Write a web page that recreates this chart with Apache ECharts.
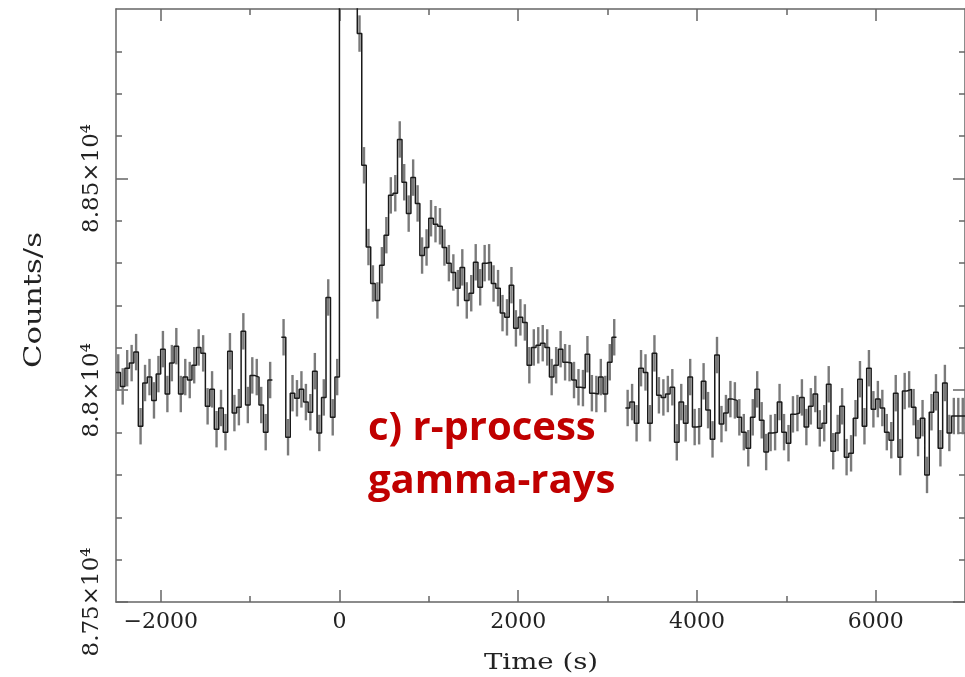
<!DOCTYPE html>
<html>
<head>
<meta charset="utf-8">
<script src="https://cdn.jsdelivr.net/npm/echarts@6/dist/echarts.min.js"></script>
<style>
  html, body { margin: 0; padding: 0; background: #fff; }
  #chart { width: 965px; height: 677px; }
</style>
</head>
<body>
<div id="chart"></div>
<script>
// ---- data (bin centres in s, counts/s) ----
const BIN_HALF = 25;
const ERR = 43;

const preTimes = [-2475,-2425,-2375,-2325,-2275,-2225,-2175,-2125,-2075,-2025,
  -1975,-1925,-1875,-1825,-1775,-1725,-1675,-1625,-1575,-1525,
  -1475,-1425,-1375,-1325,-1275,-1225,-1175,-1125,-1075,-1025,
  -975,-925,-875,-825,-775,-725,-675,-625,-575,-525,
  -475,-425,-375,-325,-275,-225,-175,-125,-75,-25];
const preCounts = [88042,88009,88052,88064,88090,87915,88017,88031,87976,88038,
  88097,87991,88064,88104,87991,88031,88024,88059,88101,88087,
  87962,88002,87908,87958,87901,88092,87946,87960,88139,87965,
  88035,88031,87965,87901,88024,null,null,88125,87889,87993,
  87981,88002,87972,87948,88045,87899,87983,88219,87936,88031];

const postTimes = [25,75,125,175,225,275,325,375,425,475,
  525,575,625,675,725,775,825,875,925,975,
  1025,1075,1125,1175,1225,1275,1325,1375,1425,1475,
  1525,1575,1625,1675,1725,1775,1825,1875,1925,1975,
  2025,2075,2125,2175,2225,2275,2325,2375,2425,2475,
  2525,2575,2625,2675,2725,2775,2825,2875,2925,2975,
  3025,3075,3125,3175,3225,3275,3325,3375,3425,3475,
  3525,3575,3625,3675,3725,3775,3825,3875,3925,3975,
  4025,4075,4125,4175,4225,4275,4325,4375,4425,4475,
  4525,4575,4625,4675,4725,4775,4825,4875,4925,4975,
  5025,5075,5125,5175,5225,5275,5325,5375,5425,5475,
  5525,5575,5625,5675,5725,5775,5825,5875,5925,5975,
  6025,6075,6125,6175,6225,6275,6325,6375,6425,6475,
  6525,6575,6625,6675,6725,6775,6825,6875,6925,6975];
const postCounts = [90000,90000,89800,89000,88842,88531,88338,88252,88212,88295,
  88366,88460,88465,88592,88491,88417,88502,88441,88318,88337,
  88406,88392,88387,88337,88300,88278,88241,88290,88212,88229,
  88302,88243,88300,88302,88252,88241,88182,88172,88248,88146,
  88172,88160,88059,88101,88106,88111,88101,88031,88059,88097,
  88066,88064,88024,88007,88005,88085,87993,87991,88031,87991,
  88066,88125,null,null,87958,87972,87922,88052,88042,87922,
  88087,87988,87983,87991,88007,87877,87972,87922,88031,87913,
  87915,88021,87953,87884,88083,87920,87946,87979,87976,87936,
  87901,87863,87936,88002,87929,87854,87899,87901,87972,87901,
  87875,87943,87946,87983,87913,87962,87991,87910,87922,88014,
  87856,87899,87962,87842,87851,87934,88026,87915,88052,87955,
  87979,87958,87901,87882,87993,87842,87998,88002,87960,87887,
  87934,87800,87948,87995,87863,88017,87899,87939,87939,87939];

const xMajorTicks = [-2000, 0, 2000, 4000, 6000];
const xMinorTicks = [-1000, 1000, 3000, 5000];
const yMajorTicks = [87500, 88000, 88500];
const yMinorTicks = [87600, 87700, 87800, 87900, 88100, 88200, 88300, 88400, 88600, 88700, 88800];

// ---- build series data ----
const times = preTimes.concat(postTimes);
const counts = preCounts.concat(postCounts);
const stepData = [];
const errData = [];
for (let i = 0; i < times.length; i++) {
  const t = times[i], v = counts[i];
  if (v === null) { stepData.push([t, '-']); continue; }
  stepData.push([t - BIN_HALF, v]);
  stepData.push([t + BIN_HALF, v]);
  errData.push([t, v - ERR, v + ERR]);
}

const SERIF = '"DejaVu Serif", "Liberation Serif", serif';
const AX = '#666';
const X_MIN = -2500, X_MAX = 7000, Y_MIN = 87500, Y_MAX = 88900;

function xAx(pos, major) {
  return {
    type: 'value', min: X_MIN, max: X_MAX, position: pos,
    axisLine: { show: major, onZero: false, lineStyle: { color: AX, width: 1.5 } },
    axisTick: { show: true, inside: true, length: major ? 12 : 6,
      customValues: major ? xMajorTicks : xMinorTicks,
      lineStyle: { color: AX, width: 1.5 } },
    axisLabel: (major && pos === 'bottom') ? {
      show: true, customValues: xMajorTicks, margin: 9,
      fontFamily: SERIF, fontSize: 22, color: '#222',
      formatter: v => v < 0 ? '\u2212' + (-v) : String(v)
    } : { show: false },
    splitLine: { show: false }
  };
}
function yAx(pos, major) {
  return {
    type: 'value', min: Y_MIN, max: Y_MAX, position: pos,
    axisLine: { show: major, onZero: false, lineStyle: { color: AX, width: 1.5 } },
    axisTick: { show: true, inside: true, length: major ? 12 : 6,
      customValues: major ? yMajorTicks : yMinorTicks,
      lineStyle: { color: AX, width: 1.5 } },
    axisLabel: (major && pos === 'left') ? {
      show: true, customValues: yMajorTicks, rotate: 90, margin: 12,
      fontFamily: SERIF, fontSize: 23, color: '#222',
      formatter: v => String(v / 10000) + '\u00d710\u2074'
    } : { show: false },
    splitLine: { show: false }
  };
}

const chart = echarts.init(document.getElementById('chart'), null, { renderer: 'canvas' });
chart.setOption({
  animation: false,
  backgroundColor: '#fff',
  grid: { left: 116, right: -3, top: 9, bottom: 75, containLabel: false },
  xAxis: [xAx('bottom', true), xAx('bottom', false), xAx('top', true), xAx('top', false)],
  yAxis: [yAx('left', true), yAx('left', false), yAx('right', true), yAx('right', false)],
  series: [
    {
      type: 'custom', xAxisIndex: 0, yAxisIndex: 0, clip: true, z: 2,
      data: errData,
      renderItem: function (params, api) {
        const p1 = api.coord([api.value(0), api.value(1)]);
        const p2 = api.coord([api.value(0), api.value(2)]);
        return { type: 'line', shape: { x1: p1[0], y1: p1[1], x2: p2[0], y2: p2[1] },
          style: { stroke: '#7a7a7a', lineWidth: 2.4 } };
      }
    },
    {
      type: 'line', xAxisIndex: 0, yAxisIndex: 0, clip: true, z: 3,
      data: stepData, showSymbol: false, symbol: 'none', connectNulls: false,
      lineStyle: { color: '#1a1a1a', width: 1.5 }
    }
  ],
  graphic: [
    { type: 'text', x: 35, y: 300, rotation: Math.PI / 2, scaleX: 1.28,
      style: { text: 'Counts/s', fontFamily: SERIF, fontSize: 24, fill: '#222', align: 'center', verticalAlign: 'middle' } },
    { type: 'text', x: 541, y: 663, scaleX: 1.2,
      style: { text: 'Time (s)', fontFamily: SERIF, fontSize: 23, fill: '#222', align: 'center', verticalAlign: 'middle' } },
    { type: 'text', x: 368, y: 429,
      style: { text: 'c) r-process', fontFamily: '"Open Sans", "Noto Sans", sans-serif', fontWeight: 'bold', fontSize: 40, fill: '#C00000', align: 'left', verticalAlign: 'middle' } },
    { type: 'text', x: 368, y: 482,
      style: { text: 'gamma-rays', fontFamily: '"Open Sans", "Noto Sans", sans-serif', fontWeight: 'bold', fontSize: 40, fill: '#C00000', align: 'left', verticalAlign: 'middle' } }
  ]
});
</script>
</body>
</html>
